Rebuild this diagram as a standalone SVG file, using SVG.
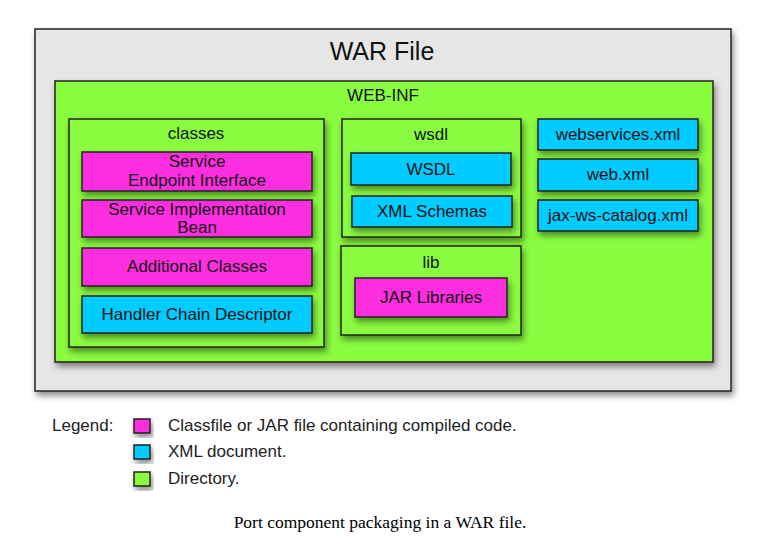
<svg xmlns="http://www.w3.org/2000/svg" width="784" height="556" viewBox="0 0 784 556">
<defs>
<filter id="sh" x="-20%" y="-20%" width="140%" height="150%">
<feDropShadow dx="2" dy="4" stdDeviation="3" flood-color="#000" flood-opacity="0.45"/>
</filter>
</defs>
<style>
.box{stroke:#222;stroke-width:1.5;filter:url(#sh)}
.war{fill:#e6e6e6}
.dir{fill:#8afc3f}
.cls{fill:#fc2ee0}
.xml{fill:#00ccff}
text{font-family:"Liberation Sans",Arial,sans-serif;font-size:17px;fill:#111;text-anchor:middle}
.lg{text-anchor:start;fill:#222}
.cap{font-family:"Liberation Serif","Times New Roman",serif;font-size:17.5px;fill:#000}
</style>
<rect width="784" height="556" fill="#fff"/>
<g id="war">
<rect class="box war" x="35" y="29" width="696" height="362"/>
<text x="382" y="60" style="font-size:25px">WAR File</text>
</g>
<g id="webinf">
<rect class="box dir" x="55" y="81" width="658" height="281"/>
<text x="383" y="101">WEB-INF</text>
</g>
<g id="classes">
<rect class="box dir" x="69" y="119" width="255" height="228"/>
<text x="196" y="139">classes</text>
</g>
<g id="sei">
<rect class="box cls" x="82" y="152" width="230" height="39"/>
<text x="197" y="167">Service</text>
<text x="197" y="186">Endpoint Interface</text>
</g>
<g id="sib">
<rect class="box cls" x="82" y="200" width="230" height="37"/>
<text x="197" y="215">Service Implementation</text>
<text x="197" y="233">Bean</text>
</g>
<g id="additional">
<rect class="box cls" x="82" y="248" width="230" height="38"/>
<text x="197" y="272">Additional Classes</text>
</g>
<g id="handler">
<rect class="box xml" x="82" y="296" width="230" height="37"/>
<text x="197" y="320">Handler Chain Descriptor</text>
</g>
<g id="wsdldir">
<rect class="box dir" x="342" y="119" width="179" height="118"/>
<text x="431" y="140">wsdl</text>
</g>
<g id="wsdl">
<rect class="box xml" x="351" y="153" width="160" height="32"/>
<text x="431" y="175">WSDL</text>
</g>
<g id="schemas">
<rect class="box xml" x="352" y="196" width="160" height="31"/>
<text x="432" y="217">XML Schemas</text>
</g>
<g id="lib">
<rect class="box dir" x="341" y="246" width="180" height="89"/>
<text x="431" y="268">lib</text>
</g>
<g id="jar">
<rect class="box cls" x="355" y="278" width="152" height="39"/>
<text x="431" y="303">JAR Libraries</text>
</g>
<g id="webservices">
<rect class="box xml" x="538" y="119" width="160" height="31"/>
<text x="618" y="140">webservices.xml</text>
</g>
<g id="webxml">
<rect class="box xml" x="538" y="159" width="160" height="32"/>
<text x="618" y="180">web.xml</text>
</g>
<g id="catalog">
<rect class="box xml" x="538" y="200" width="160" height="31"/>
<text x="618" y="221">jax-ws-catalog.xml</text>
</g>
<g id="connectors"></g>
<g id="legend">
<text class="lg" x="52" y="431">Legend:</text>
<rect class="box cls" x="134" y="419" width="16" height="14"/>
<text class="lg" x="168" y="431">Classfile or JAR file containing compiled code.</text>
<rect class="box xml" x="134" y="445" width="16" height="14"/>
<text class="lg" x="168" y="457">XML document.</text>
<rect class="box dir" x="134" y="472" width="16" height="14"/>
<text class="lg" x="168" y="484">Directory.</text>
</g>
<text class="cap" x="380" y="528">Port component packaging in a WAR file.</text>
</svg>
